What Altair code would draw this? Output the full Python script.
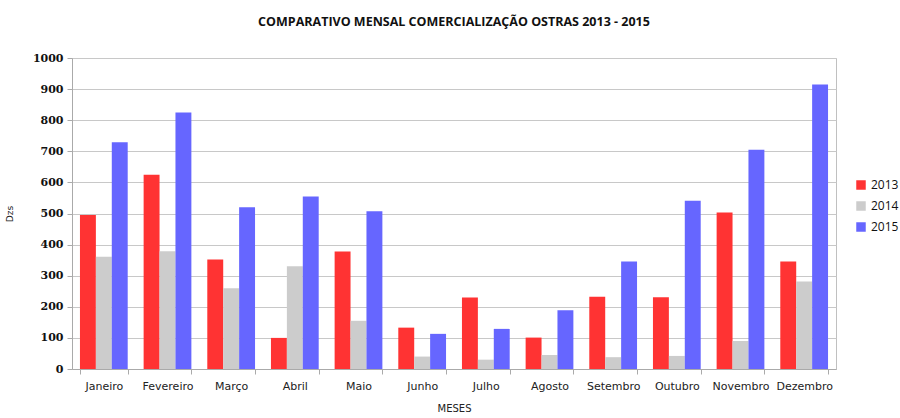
import altair as alt
import pandas as pd

meses = ["Janeiro", "Fevereiro", "Março", "Abril", "Maio", "Junho", "Julho",
         "Agosto", "Setembro", "Outubro", "Novembro", "Dezembro"]
anos = ["2013", "2014", "2015"]
v2013 = [495, 625, 352, 100, 378, 133, 230, 101, 232, 231, 503, 346]
v2014 = [361, 379, 260, 330, 155, 40, 30, 45, 38, 42, 90, 281]
v2015 = [729, 825, 520, 555, 507, 113, 129, 189, 346, 541, 705, 915]
cores = ["#FF3333", "#CCCCCC", "#6666FF"]

rows = []
for serie, ano in zip([v2013, v2014, v2015], anos):
    for m, v in zip(meses, serie):
        rows.append({"Mês": m, "Ano": ano, "Dzs": v})
df = pd.DataFrame(rows)

chart = alt.Chart(df).mark_bar().encode(
    x=alt.X("Mês:N", sort=meses, title="MESES",
            scale=alt.Scale(paddingInner=0.25, paddingOuter=0.125),
            axis=alt.Axis(labelAngle=0, tickBand="extent", labelFont="DejaVu Sans",
                          labelFontSize=11, labelColor="#222", tickColor="#aaa",
                          domainColor="#aaa", tickSize=5, labelPadding=6,
                          titleFont="DejaVu Sans", titleFontSize=10,
                          titleFontWeight="normal", titlePadding=12, titleColor="#222")),
    xOffset=alt.XOffset("Ano:N", sort=anos),
    y=alt.Y("Dzs:Q", title="Dzs",
            scale=alt.Scale(domain=[0, 1000]),
            axis=alt.Axis(values=list(range(0, 1001, 100)), format="d",
                          labelFont="DejaVu Serif",
                          labelFontWeight="bold", labelFontSize=11, labelColor="#111",
                          gridColor="#c8c8c8", tickColor="#aaa", domainColor="#aaa",
                          tickSize=5, labelPadding=4,
                          titleFont="DejaVu Sans", titleFontSize=9,
                          titleFontWeight="normal", titlePadding=18, titleColor="#222")),
    color=alt.Color("Ano:N", sort=anos,
                    scale=alt.Scale(domain=anos, range=cores),
                    legend=alt.Legend(title=None, orient="none", legendX=783, legendY=121,
                                      symbolType="square", symbolSize=90,
                                      symbolStrokeWidth=0,
                                      labelFont="Open Sans", labelFontSize=12,
                                      labelColor="#111", rowPadding=9)),
).properties(
    width=764, height=311,
    title=alt.Title("COMPARATIVO MENSAL COMERCIALIZAÇÃO OSTRAS 2013 - 2015",
                    font="Open Sans", fontSize=12.5, fontWeight="bold",
                    color="#111", offset=24, anchor="middle"),
    autosize=alt.AutoSizeParams(type="none"),
    padding={"left": 72, "top": 58, "right": 64, "bottom": 49},
).configure_view(stroke="#c0c0c0")

chart.save("out.html", embed_options={"renderer": "svg", "actions": False})
